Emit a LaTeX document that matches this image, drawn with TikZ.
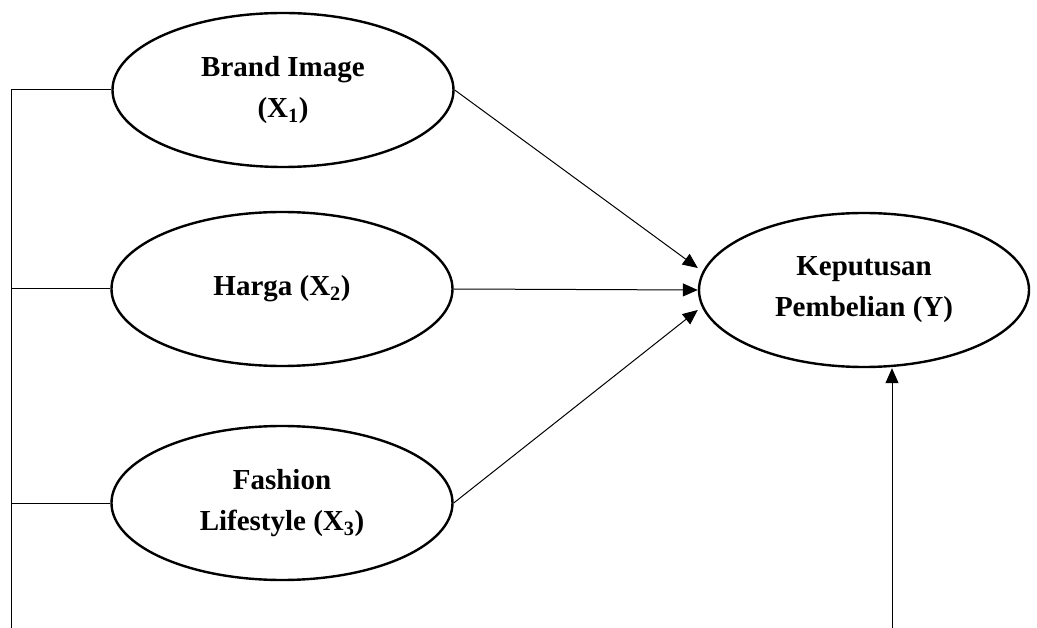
\documentclass[tikz,border=0pt]{standalone}
\usepackage{fontspec}
\setmainfont{Liberation Serif}
\usetikzlibrary{shapes.geometric,arrows.meta}

\begin{document}
\begin{tikzpicture}[x=1pt,y=-1pt]

      \useasboundingbox (0,0) rectangle (1037,628);

      \begin{scope}[every node/.style={ellipse,draw,line width=2.4pt,inner sep=0pt,
          minimum width=341pt,minimum height=154pt,align=center,
          font=\fontsize{29}{41}\selectfont\bfseries}]
        \node (x1) at (283,90)  {Brand Image\\(X\textsubscript{1})};
        \node (x2) at (282,289) {Harga (X\textsubscript{2})};
        \node (x3) at (282,503) {Fashion\\Lifestyle (X\textsubscript{3})};
        \node[minimum width=330pt] (y) at (864,290) {Keputusan\\Pembelian (Y)};
      \end{scope}

      \coordinate (base)  at (11,628);
      \coordinate (ybase) at (892,628);

      \begin{scope}[line width=1pt]

        \begin{scope}[every edge/.style={draw}]
          \path (base) edge[to path={|- (\tikztotarget)}] (x1.west);
          \path (base |- x2.west) edge (x2.west);
          \path (base |- x3.west) edge (x3.west);
        \end{scope}

        \begin{scope}[every edge/.style={draw,-{Triangle[length=15pt,width=13pt]}}]
          \path (x1.east) edge ([yshift=22pt]y.west);
          \path (x2.east) edge (y.west);
          \path (x3.east) edge ([yshift=-20pt]y.west);
          \path (ybase) edge (ybase |- y.south);
        \end{scope}

      \end{scope}

    \end{tikzpicture}
\end{document}
